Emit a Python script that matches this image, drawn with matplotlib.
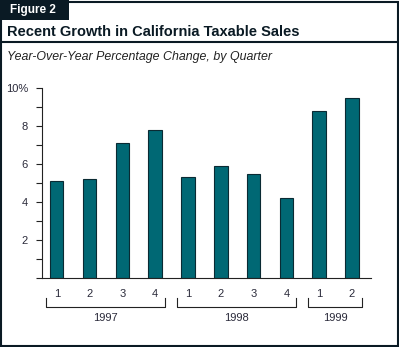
import numpy as np
import matplotlib.pyplot as plt
import matplotlib.transforms as mtransforms
from matplotlib.patches import Rectangle

plt.rcParams['font.family'] = ['Liberation Sans', 'DejaVu Sans']

quarters = ['1', '2', '3', '4', '1', '2', '3', '4', '1', '2']
values = [5.1, 5.2, 7.1, 7.8, 5.3, 5.9, 5.5, 4.2, 8.8, 9.5]
years = ['1997', '1998', '1999']
year_counts = [4, 4, 2]

W, H = 399, 347
fig = plt.figure(figsize=(W / 100, H / 100), dpi=100)
fig.patch.set_facecolor('white')

# outer frame, tab and title rule
fig.add_artist(Rectangle((1 / W, 1 / H), (W - 2.5) / W, (H - 2.5) / H, transform=fig.transFigure,
                         fill=False, edgecolor='#0a1a24', linewidth=1.5))
fig.add_artist(Rectangle((0, 1 - 20 / H), 69 / W, 20 / H, transform=fig.transFigure,
                         facecolor='#0a1a24', edgecolor='none'))
fig.add_artist(plt.Line2D([0, 1], [1 - 41.5 / H, 1 - 41.5 / H], transform=fig.transFigure,
                          color='#0a1a24', linewidth=1.5))
fig.text(10 / W, 1 - 10.5 / H, 'Figure 2', color='white', fontsize=8.5, fontweight='bold',
         va='center', ha='left')
fig.text(7 / W, 1 - 32 / H, 'Recent Growth in California Taxable Sales', color='#0a1a24',
         fontsize=10.5, fontweight='bold', va='center', ha='left')
fig.text(7 / W, 1 - 57 / H, 'Year-Over-Year Percentage Change, by Quarter', color='#222222',
         fontsize=8.9, fontstyle='italic', va='center', ha='left')

ax = fig.add_axes([42 / W, 1 - 278 / H, (370.7 - 42) / W, (278 - 88) / H])
x = np.arange(len(values))
ax.bar(x, values, width=0.41, color='#006874', edgecolor='#0a2a33', linewidth=0.8)
ax.set_xlim(-0.45, 9.57)
ax.set_ylim(0, 10)

for s in ['top', 'right']:
    ax.spines[s].set_visible(False)
ax.spines['left'].set_color('#222222')
ax.spines['bottom'].set_color('#222222')
ax.spines['left'].set_linewidth(0.8)
ax.spines['bottom'].set_linewidth(0.8)

ax.set_yticks(np.arange(0, 11, 1))
ax.set_yticklabels(['' if (v == 0 or v % 2) else ('10%' if v == 10 else str(v)) for v in range(11)])
ax.tick_params(axis='y', length=4, width=0.8, color='#222222', labelsize=8,
               labelcolor='#2a2a3a', pad=6)
ax.set_xticks(x)
ax.set_xticklabels(quarters)
ax.tick_params(axis='x', length=0, labelsize=8, labelcolor='#2a2a3a', pad=8)

# year brackets below the quarter labels
trans = mtransforms.blended_transform_factory(ax.transData, ax.transAxes)
y_top = -(298 - 278) / (278 - 88)
y_bot = -(307 - 278) / (278 - 88)
y_lab = -(318 - 278) / (278 - 88)
start = 0
for yr, n in zip(years, year_counts):
    x0 = start - 0.33
    x1 = start + n - 1 + 0.3
    ax.plot([x0, x0, x1, x1], [y_top, y_bot, y_bot, y_top], transform=trans,
            color='#222222', linewidth=0.8, clip_on=False)
    ax.text((x0 + x1) / 2, y_lab, yr, transform=trans, ha='center', va='center',
            fontsize=8, color='#2a2a3a')
    start += n

fig.savefig('out.png', dpi=100)
